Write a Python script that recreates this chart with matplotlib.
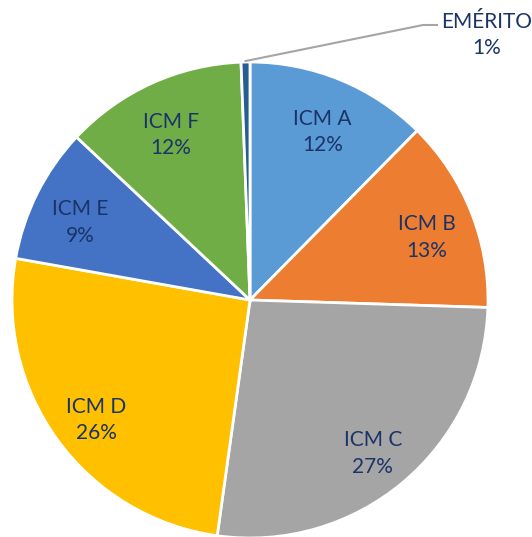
import numpy as np
import matplotlib.pyplot as plt

categories = ['ICM A', 'ICM B', 'ICM C', 'ICM D', 'ICM E', 'ICM F', 'EMÉRITO']
values = [12.4, 13.1, 26.7, 25.6, 9.2, 12.4, 0.6]
colors = ['#5B9BD5', '#ED7D31', '#A5A5A5', '#FFC000', '#4472C4', '#70AD47', '#255E91']

text_color = '#1B3468'
plt.rcParams['font.family'] = ['Lato', 'DejaVu Sans']

fig = plt.figure(figsize=(5.32, 5.37), dpi=100)
ax = fig.add_axes([0, 0, 1, 1])

cx, cy, R = 250, 537 - 300, 238
wedges, _ = ax.pie(values, colors=colors, startangle=90, counterclock=False,
                   center=(cx, cy), radius=R,
                   wedgeprops=dict(edgecolor='white', linewidth=2))

total = sum(values)
for w, name, v in zip(wedges, categories, values):
    if name == 'EMÉRITO':
        continue
    mid = np.deg2rad((w.theta1 + w.theta2) / 2)
    x = cx + 0.8 * R * np.cos(mid)
    y = cy + 0.8 * R * np.sin(mid) - 8
    ax.text(x, y, f'{name}\n{v / total * 100:.0f}%', ha='center', va='center',
            fontsize=15, color=text_color, linespacing=1.4)

# leader line for the small slice
w = wedges[-1]
mid = np.deg2rad((w.theta1 + w.theta2) / 2)
x0, y0 = cx + R * np.cos(mid), cy + R * np.sin(mid) + 1
ax.plot([x0, 423, 437], [y0, 537 - 25, 537 - 25], color='#A5A5A5', lw=1.5)
ax.text(487, 537 - 35, f'{categories[-1]}\n{values[-1] / total * 100:.0f}%',
        ha='center', va='center', fontsize=15, color=text_color, linespacing=1.4)

ax.set_xlim(0, 532)
ax.set_ylim(0, 537)
ax.set_aspect('equal')
ax.axis('off')

fig.savefig('out.png', dpi=100)
